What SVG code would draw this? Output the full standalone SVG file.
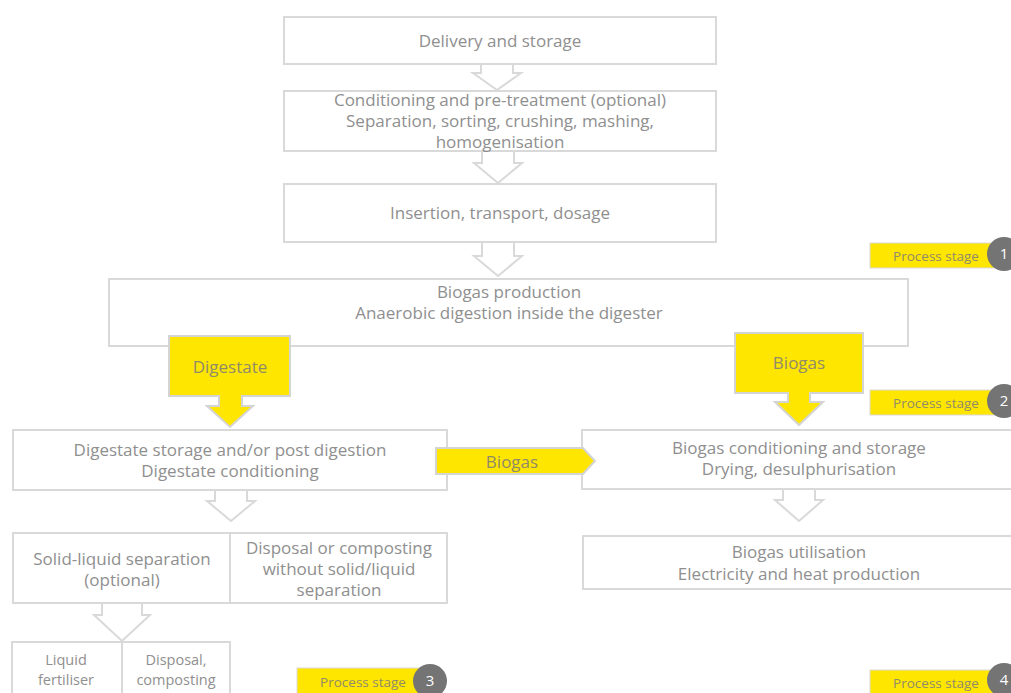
<svg xmlns="http://www.w3.org/2000/svg" width="1011" height="693" viewBox="0 0 1011 693">
<style>
.box{fill:#fff;stroke:#d9d9d9;stroke-width:2}
.harrow{fill:#fff;stroke:#d9d9d9;stroke-width:2;stroke-linejoin:miter}
.yarrow{fill:#ffe600;stroke:#d4d4d4;stroke-width:2}
.t{font-family:"Open Sans","Liberation Sans",sans-serif;font-size:17px;fill:#8f8f8f;text-anchor:middle}
.ts{font-family:"Open Sans","Liberation Sans",sans-serif;font-size:14.5px;fill:#8f8f8f;text-anchor:middle}
.ty{font-family:"Open Sans","Liberation Sans",sans-serif;font-size:17px;fill:#8f8a6a;text-anchor:middle}
.badge{fill:#ffe600;stroke:#d9d9d9;stroke-width:1}
.bt{font-family:"Open Sans","Liberation Sans",sans-serif;font-size:13.5px;fill:#8f8a6a;text-anchor:middle}
.circ{fill:#747474}
.ct{font-family:"Open Sans","Liberation Sans",sans-serif;font-size:15px;fill:#fff;text-anchor:middle}
</style>
<rect width="1011" height="693" fill="#fff"/>

<g id="n1"><rect class="box" x="284" y="17" width="432" height="47"/><text class="t" x="500" y="47">Delivery and storage</text></g>
<g id="n2"><rect class="box" x="284" y="91" width="432" height="60"/>
<text class="t" x="500" y="106">Conditioning and pre-treatment (optional)</text>
<text class="t" x="500" y="127">Separation, sorting, crushing, mashing,</text>
<text class="t" x="500" y="148">homogenisation</text></g>
<g id="n3"><rect class="box" x="284" y="184" width="432" height="58"/><text class="t" x="500" y="219">Insertion, transport, dosage</text></g>
<g id="n4"><rect class="box" x="109" y="279" width="799" height="67"/>
<text class="t" x="509" y="298">Biogas production</text>
<text class="t" x="509" y="319">Anaerobic digestion inside the digester</text></g>
<g id="n5"><rect class="box" x="13" y="430" width="434" height="60"/>
<text class="t" x="230" y="456">Digestate storage and/or post digestion</text>
<text class="t" x="230" y="477">Digestate conditioning</text></g>
<g id="n6"><rect class="box" x="582" y="430" width="440" height="59"/>
<text class="t" x="799" y="454">Biogas conditioning and storage</text>
<text class="t" x="799" y="475">Drying, desulphurisation</text></g>
<g id="n7"><rect class="box" x="13" y="533" width="217" height="70"/>
<text class="t" x="122" y="565">Solid-liquid separation</text>
<text class="t" x="122" y="586">(optional)</text></g>
<g id="n8"><rect class="box" x="230" y="533" width="217" height="70"/>
<text class="t" x="339" y="554">Disposal or composting</text>
<text class="t" x="339" y="575">without solid/liquid</text>
<text class="t" x="339" y="596">separation</text></g>
<g id="n9"><rect class="box" x="12" y="642" width="110" height="60"/>
<text class="ts" x="66" y="665">Liquid</text>
<text class="ts" x="66" y="685">fertiliser</text></g>
<g id="n10"><rect class="box" x="122" y="642" width="108" height="60"/>
<text class="ts" x="176" y="665">Disposal,</text>
<text class="ts" x="176" y="685">composting</text></g>
<g id="n11"><rect class="box" x="583" y="536" width="440" height="53"/>
<text class="t" x="799" y="558">Biogas utilisation</text>
<text class="t" x="799" y="580">Electricity and heat production</text></g>

<g id="connectors">
<polyline class="harrow" points="481,65 481,73 473,73 497,90 521,73 513,73 513,65"/>
<polyline class="harrow" points="482,152 482,163 474,163 498,183 522,163 514,163 514,152"/>
<polyline class="harrow" points="482,243 482,256 474,256 498,276 522,256 514,256 514,243"/>
<polyline class="harrow" points="215,491 215,501 207,501 231,521 255,501 247,501 247,491"/>
<polyline class="harrow" points="783,490 783,500 775,500 799,521 823,500 815,500 815,490"/>
<polyline class="harrow" points="102,604 102,615 94,615 122,641 150,615 142,615 142,604"/>
<g id="y-digestate"><path class="yarrow" d="M169,336 H290 V396 H242 V406 H253 L230,427 L207,406 H219 V396 H169 Z"/><text class="ty" x="230" y="373">Digestate</text></g>
<g id="y-biogas"><path class="yarrow" d="M735,333 H863 V393 H810 V402 H823 L799,425 L775,402 H788 V393 H735 Z"/><text class="ty" x="799" y="369">Biogas</text></g>
<g id="y-biogas-h"><path class="yarrow" d="M436,448 H583 L595,461 L583,474 H436 Z"/><text class="ty" x="512" y="468">Biogas</text></g>
</g>

<g id="stage1"><rect class="badge" x="870" y="243" width="125" height="25"/><text class="bt" x="936" y="261">Process stage</text><circle class="circ" cx="1004" cy="254" r="17"/><text class="ct" x="1004" y="259">1</text></g>
<g id="stage2"><rect class="badge" x="870" y="390" width="125" height="25"/><text class="bt" x="936" y="408">Process stage</text><circle class="circ" cx="1004" cy="401" r="17"/><text class="ct" x="1004" y="406">2</text></g>
<g id="stage3"><rect class="badge" x="297" y="668" width="123" height="26"/><text class="bt" x="363" y="687">Process stage</text><circle class="circ" cx="430" cy="681" r="17"/><text class="ct" x="430" y="686">3</text></g>
<g id="stage4"><rect class="badge" x="870" y="670" width="125" height="25"/><text class="bt" x="936" y="688">Process stage</text><circle class="circ" cx="1004" cy="680" r="17"/><text class="ct" x="1004" y="685">4</text></g>
</svg>
